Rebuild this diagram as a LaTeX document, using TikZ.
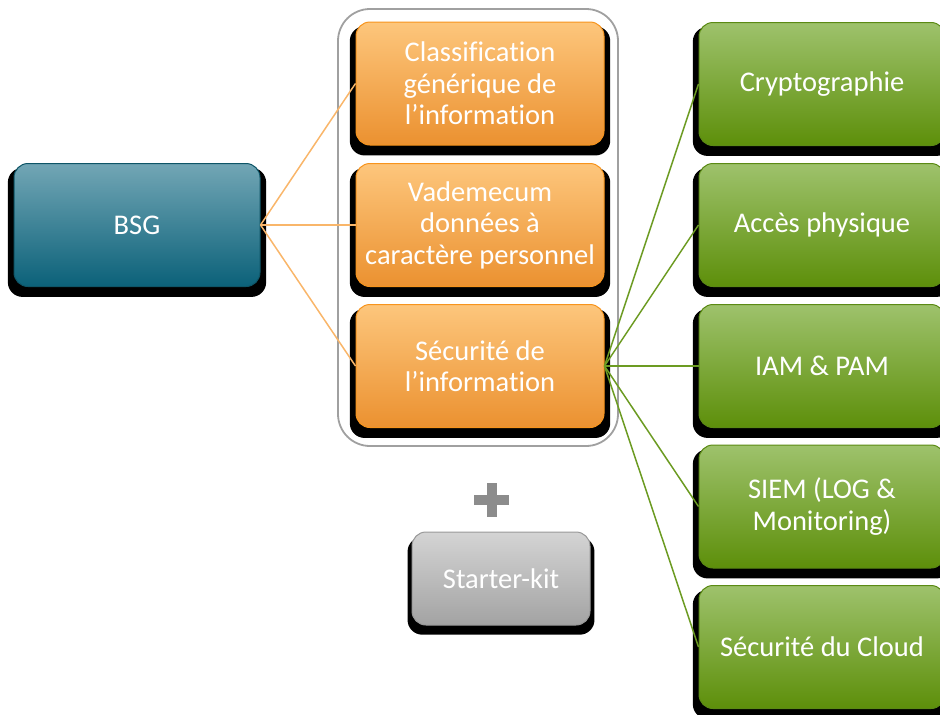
\documentclass[tikz,border=0pt]{standalone}
\usepackage{fontspec}
\setmainfont{Carlito}[Ligatures=NoCommon]
\usetikzlibrary{shadows}
\definecolor{bsgtop}{HTML}{72A6B5}
\definecolor{bsgbot}{HTML}{0B6179}
\definecolor{bsgline}{HTML}{0E5567}
\definecolor{ortop}{HTML}{FDC67C}
\definecolor{orbot}{HTML}{EB9130}
\definecolor{orline}{HTML}{F7941D}
\definecolor{grtop}{HTML}{9EC26C}
\definecolor{grbot}{HTML}{5D8F0A}
\definecolor{grline}{HTML}{5B8A14}
\definecolor{gytop}{HTML}{D4D4D4}
\definecolor{gybot}{HTML}{A3A3A3}
\definecolor{gyline}{HTML}{999999}
\definecolor{orconn}{HTML}{F9B66A}
\definecolor{grconn}{HTML}{6C9B22}
\definecolor{frame}{HTML}{A0A0A0}
\definecolor{plusc}{HTML}{8C8C8C}
\tikzset{
  boxbase/.style={rounded corners=14pt, line width=1pt, text=white, align=center,
    font=\fontsize{28.5}{31.5}\selectfont, inner sep=0pt,
    minimum width=246pt, minimum height=123pt,
    drop shadow={shadow xshift=0pt, shadow yshift=-7pt, shadow scale=1.05, opacity=1, fill=black}},
  bsgbox/.style={boxbase, draw=bsgline, top color=bsgtop, bottom color=bsgbot},
  orbox/.style={boxbase, minimum width=248pt, draw=orline, top color=ortop, bottom color=orbot},
  grbox/.style={boxbase, draw=grline, top color=grtop, bottom color=grbot},
  gybox/.style={boxbase, minimum width=178pt, minimum height=93pt, draw=gyline, top color=gytop, bottom color=gybot},
  orlink/.style={draw=orconn, line width=1.5pt},
  grlink/.style={draw=grconn, line width=1.5pt},
}
\begin{document}
\begin{tikzpicture}[x=1pt,y=-1pt]
\useasboundingbox (0,0) rectangle (940,715);
\clip (0,0) rectangle (940,715);
% container frame
\draw[frame, line width=1.8pt, rounded corners=32pt] (338,9) rectangle (618,446);
% nodes
\node[bsgbox] (bsg) at (137,225) {BSG};
\node[orbox] (cls) at (480,83.5) {Classification\\générique de\\l’information};
\node[orbox] (vad) at (480,225) {Vademecum\\données à\\caractère personnel};
\node[orbox] (sec) at (480,366) {Sécurité de\\l’information};
\node[grbox] (cry) at (822,84) {Cryptographie};
\node[grbox] (acc) at (822,225) {Accès physique};
\node[grbox] (iam) at (822,366) {IAM \& PAM};
\node[grbox] (siem) at (822,506.5) {SIEM (LOG \&\\Monitoring)};
\node[grbox] (cld) at (822,647) {Sécurité du Cloud};
\node[gybox] (kit) at (501,578.5) {Starter-kit};
% plus sign
\draw[plusc, line width=10pt] (474,500) -- (509,500) (491.5,483) -- (491.5,517);
% connectors
\draw[orlink] (bsg.east) -- (cls.west);
\draw[orlink] (bsg.east) -- (vad.west);
\draw[orlink] (bsg.east) -- (sec.west);
\draw[grlink] (sec.east) -- (cry.west);
\draw[grlink] (sec.east) -- (acc.west);
\draw[grlink] (sec.east) -- (iam.west);
\draw[grlink] (sec.east) -- (siem.west);
\draw[grlink] (sec.east) -- (cld.west);
\end{tikzpicture}
\end{document}
